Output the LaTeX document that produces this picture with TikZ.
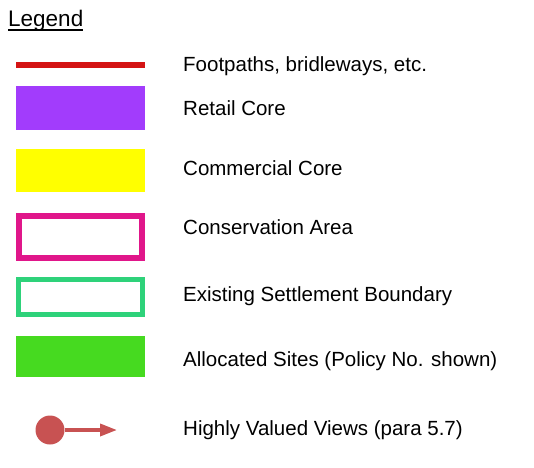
\documentclass[tikz,border=0pt]{standalone}
\usepackage{fontspec}
\setmainfont{Liberation Sans}
\usetikzlibrary{arrows.meta}

\definecolor{pathred}{HTML}{D41414}
\definecolor{retailpurple}{HTML}{A23CFC}
\definecolor{commyellow}{HTML}{FFFF00}
\definecolor{consmagenta}{HTML}{E0168A}
\definecolor{settlegreen}{HTML}{2ED27A}
\definecolor{sitegreen}{HTML}{46DA20}
\definecolor{viewred}{HTML}{C85252}

\begin{document}
\begin{tikzpicture}[x = 1pt, y = -1pt, > = {Triangle[length = 17pt, width = 12pt]},
	key/.style = {rectangle, inner sep = 0pt, minimum width = 129pt, minimum height = 43pt},
	keyline/.style = {rectangle, draw, inner sep = 0pt, minimum width = 123pt},
	label/.style = {anchor = base west, inner sep = 0pt, font = \fontsize{20.5}{24}\selectfont}]

	\useasboundingbox (0, 0) rectangle (534, 467);

	% Title
	
	\node [label, font = \fontsize{22.5}{26}\selectfont] (title) at (8, 26) {Legend};
	\draw [line width = 1.4pt] ([yshift = -4pt] title.base west) -- ([yshift = -4pt] title.base east);
	
	% Symbols
	
	\node [key, fill = pathred, minimum height = 6pt] (paths) at (80.5, 65) {};
	\node [key, fill = retailpurple, minimum height = 44pt] (retail) at (80.5, 108) {};
	\node [key, fill = commyellow] (commercial) at (80.5, 170.5) {};
	\node [keyline, draw = consmagenta, line width = 6pt, minimum height = 42pt] (conservation) at (80.5, 237) {};
	\node [keyline, draw = settlegreen, line width = 5pt, minimum width = 124pt, minimum height = 35pt] (settlement) at (80.5, 297) {};
	\node [key, fill = sitegreen, minimum height = 41pt] (sites) at (80.5, 356.5) {};
	
	\node [circle, fill = viewred, inner sep = 0pt, minimum size = 29pt] (viewpoint) at (50, 430) {};
	\coordinate (viewend) at (117, 430);
	\draw [->, viewred, line width = 3.5pt] (viewpoint.east) -- (viewend);
	
	% Labels
	
	\node [label] (pathstext) at (183, 71) {Footpaths, bridleways, etc.};
	\node [label] (retailtext) at (183, 115.5) {Retail Core};
	\node [label] (commercialtext) at (183, 175) {Commercial Core};
	\node [label] (conservationtext) at (183, 234.5) {Conservation Area};
	\node [label] (settlementtext) at (183, 301.5) {Existing Settlement Boundary};
	\node [label] (sitestext) at (183, 366.5) {Allocated Sites (Policy No. shown)};
	\node [label] (viewstext) at (183, 435.5) {Highly Valued Views (para 5.7)};

\end{tikzpicture}
\end{document}
